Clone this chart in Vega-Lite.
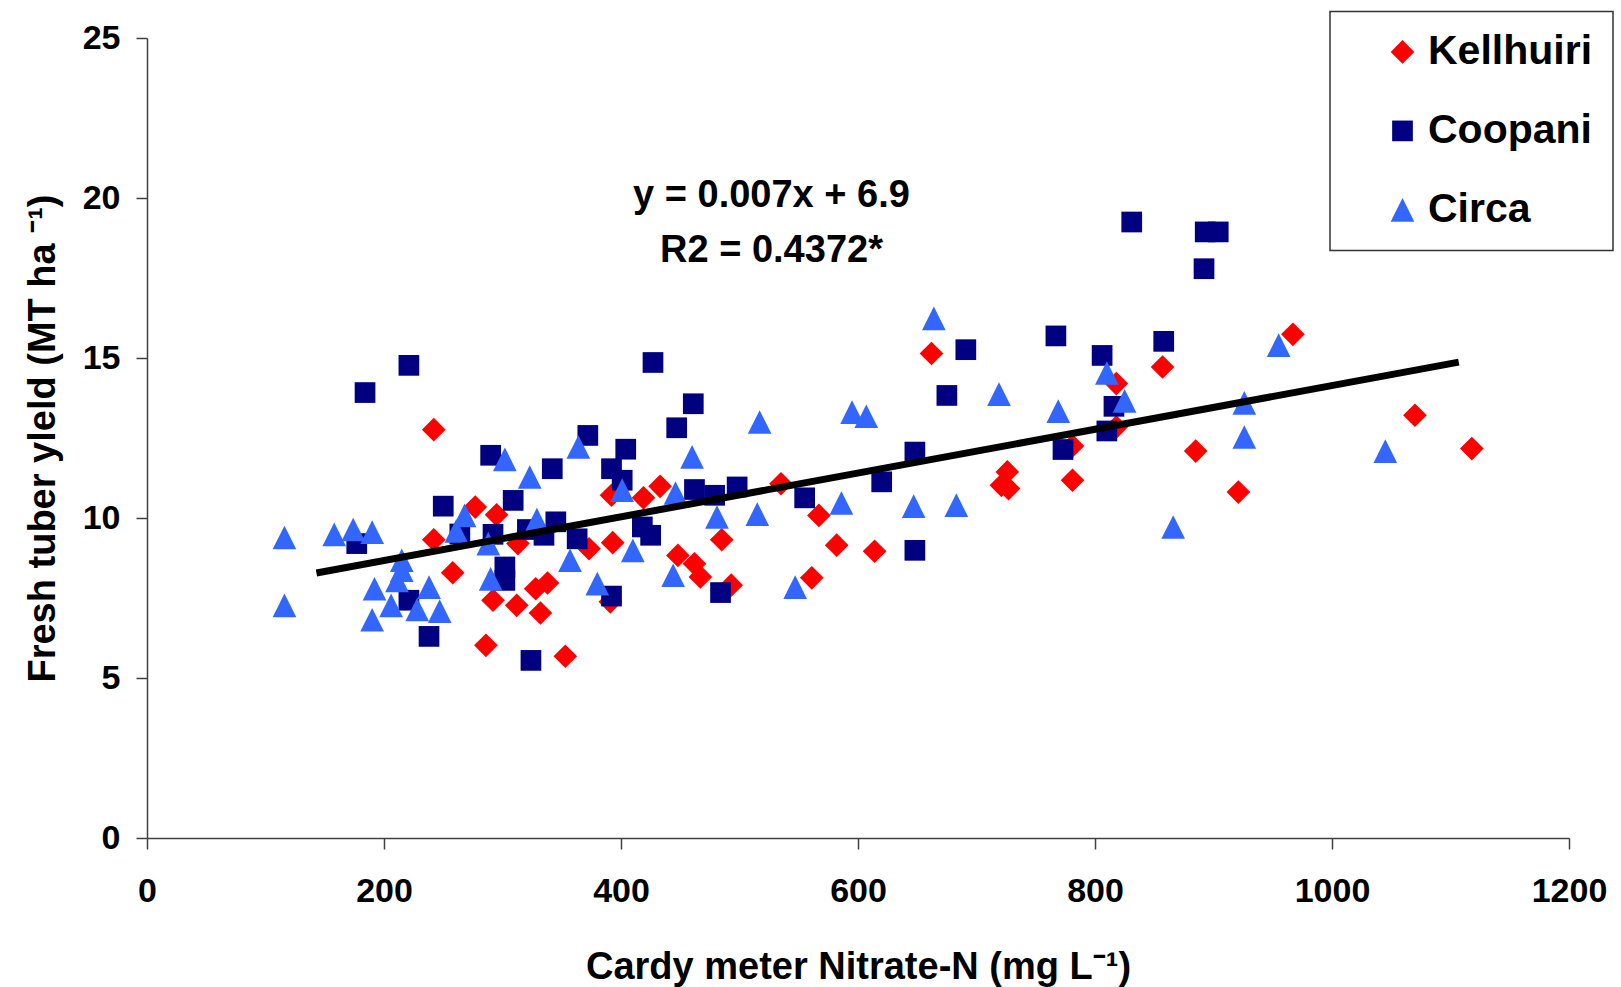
{
  "$schema": "https://vega.github.io/schema/vega-lite/v6.json",
  "width": 1422,
  "height": 800,
  "autosize": {"type": "none"},
  "padding": {"left": 147, "top": 38, "right": 52, "bottom": 149},
  "background": "white",
  "config": {
    "view": {"stroke": null},
    "font": "Liberation Sans",
    "axis": {
      "grid": false,
      "domainColor": "#404040",
      "domainWidth": 1.5,
      "tickColor": "#404040",
      "tickWidth": 1.5,
      "tickSize": 11,
      "labelFont": "Liberation Sans",
      "labelFontWeight": "bold",
      "labelFontSize": 34,
      "labelColor": "black",
      "labelFlush": false,
      "titleFont": "Liberation Sans",
      "titleFontWeight": "bold",
      "titleFontSize": 38,
      "titleColor": "black"
    },
    "legend": {
      "orient": "none",
      "legendX": 1183,
      "legendY": -26.6,
      "padding": 20,
      "strokeColor": "#333333",
      "strokeWidth": 1.5,
      "fillColor": "white",
      "labelFont": "Liberation Sans",
      "labelFontWeight": "bold",
      "labelFontSize": 41,
      "labelColor": "black",
      "labelLimit": 500,
      "symbolSize": 560,
      "symbolStrokeWidth": 0,
      "symbolOpacity": 1,
      "symbolOffset": 32,
      "labelOffset": 5,
      "rowPadding": 37,
      "titlePadding": 0
    }
  },
  "datasets": {
    "points": [
      {"variety": "Kellhuiri", "nitrate": 242, "yield": 12.76},
      {"variety": "Kellhuiri", "nitrate": 277, "yield": 10.34},
      {"variety": "Kellhuiri", "nitrate": 295, "yield": 10.1},
      {"variety": "Kellhuiri", "nitrate": 242, "yield": 9.32},
      {"variety": "Kellhuiri", "nitrate": 258, "yield": 8.29},
      {"variety": "Kellhuiri", "nitrate": 292, "yield": 7.43},
      {"variety": "Kellhuiri", "nitrate": 312, "yield": 7.27},
      {"variety": "Kellhuiri", "nitrate": 286, "yield": 6.02},
      {"variety": "Kellhuiri", "nitrate": 392, "yield": 10.71},
      {"variety": "Kellhuiri", "nitrate": 433, "yield": 10.99},
      {"variety": "Kellhuiri", "nitrate": 419, "yield": 10.63},
      {"variety": "Kellhuiri", "nitrate": 535, "yield": 11.07},
      {"variety": "Kellhuiri", "nitrate": 567, "yield": 10.08},
      {"variety": "Kellhuiri", "nitrate": 313, "yield": 9.2},
      {"variety": "Kellhuiri", "nitrate": 373, "yield": 9.04},
      {"variety": "Kellhuiri", "nitrate": 393, "yield": 9.23},
      {"variety": "Kellhuiri", "nitrate": 485, "yield": 9.32},
      {"variety": "Kellhuiri", "nitrate": 448, "yield": 8.83},
      {"variety": "Kellhuiri", "nitrate": 462, "yield": 8.57},
      {"variety": "Kellhuiri", "nitrate": 467, "yield": 8.16},
      {"variety": "Kellhuiri", "nitrate": 582, "yield": 9.15},
      {"variety": "Kellhuiri", "nitrate": 614, "yield": 8.96},
      {"variety": "Kellhuiri", "nitrate": 561, "yield": 8.13},
      {"variety": "Kellhuiri", "nitrate": 493, "yield": 7.9},
      {"variety": "Kellhuiri", "nitrate": 391, "yield": 7.38},
      {"variety": "Kellhuiri", "nitrate": 328, "yield": 7.79},
      {"variety": "Kellhuiri", "nitrate": 338, "yield": 7.97},
      {"variety": "Kellhuiri", "nitrate": 332, "yield": 7.03},
      {"variety": "Kellhuiri", "nitrate": 353, "yield": 5.68},
      {"variety": "Kellhuiri", "nitrate": 662, "yield": 15.14},
      {"variety": "Kellhuiri", "nitrate": 857, "yield": 14.72},
      {"variety": "Kellhuiri", "nitrate": 967, "yield": 15.74},
      {"variety": "Kellhuiri", "nitrate": 818, "yield": 14.2},
      {"variety": "Kellhuiri", "nitrate": 1070, "yield": 13.21},
      {"variety": "Kellhuiri", "nitrate": 781, "yield": 12.25},
      {"variety": "Kellhuiri", "nitrate": 818, "yield": 12.84},
      {"variety": "Kellhuiri", "nitrate": 885, "yield": 12.09},
      {"variety": "Kellhuiri", "nitrate": 726, "yield": 11.44},
      {"variety": "Kellhuiri", "nitrate": 721, "yield": 11.02},
      {"variety": "Kellhuiri", "nitrate": 727, "yield": 10.92},
      {"variety": "Kellhuiri", "nitrate": 781, "yield": 11.18},
      {"variety": "Kellhuiri", "nitrate": 921, "yield": 10.81},
      {"variety": "Kellhuiri", "nitrate": 1118, "yield": 12.17},
      {"variety": "Coopani", "nitrate": 221, "yield": 14.77},
      {"variety": "Coopani", "nitrate": 184, "yield": 13.92},
      {"variety": "Coopani", "nitrate": 290, "yield": 11.96},
      {"variety": "Coopani", "nitrate": 250, "yield": 10.37},
      {"variety": "Coopani", "nitrate": 309, "yield": 10.55},
      {"variety": "Coopani", "nitrate": 264, "yield": 9.5},
      {"variety": "Coopani", "nitrate": 177, "yield": 9.2},
      {"variety": "Coopani", "nitrate": 292, "yield": 9.49},
      {"variety": "Coopani", "nitrate": 302, "yield": 8.47},
      {"variety": "Coopani", "nitrate": 302, "yield": 8.05},
      {"variety": "Coopani", "nitrate": 221, "yield": 7.43},
      {"variety": "Coopani", "nitrate": 238, "yield": 6.3},
      {"variety": "Coopani", "nitrate": 427, "yield": 14.86},
      {"variety": "Coopani", "nitrate": 461, "yield": 13.57},
      {"variety": "Coopani", "nitrate": 447, "yield": 12.82},
      {"variety": "Coopani", "nitrate": 372, "yield": 12.58},
      {"variety": "Coopani", "nitrate": 404, "yield": 12.15},
      {"variety": "Coopani", "nitrate": 392, "yield": 11.54},
      {"variety": "Coopani", "nitrate": 342, "yield": 11.54},
      {"variety": "Coopani", "nitrate": 401, "yield": 11.18},
      {"variety": "Coopani", "nitrate": 462, "yield": 10.89},
      {"variety": "Coopani", "nitrate": 479, "yield": 10.71},
      {"variety": "Coopani", "nitrate": 498, "yield": 10.97},
      {"variety": "Coopani", "nitrate": 555, "yield": 10.63},
      {"variety": "Coopani", "nitrate": 620, "yield": 11.13},
      {"variety": "Coopani", "nitrate": 648, "yield": 12.06},
      {"variety": "Coopani", "nitrate": 345, "yield": 9.88},
      {"variety": "Coopani", "nitrate": 321, "yield": 9.64},
      {"variety": "Coopani", "nitrate": 335, "yield": 9.46},
      {"variety": "Coopani", "nitrate": 363, "yield": 9.35},
      {"variety": "Coopani", "nitrate": 418, "yield": 9.72},
      {"variety": "Coopani", "nitrate": 425, "yield": 9.46},
      {"variety": "Coopani", "nitrate": 648, "yield": 8.99},
      {"variety": "Coopani", "nitrate": 484, "yield": 7.67},
      {"variety": "Coopani", "nitrate": 392, "yield": 7.56},
      {"variety": "Coopani", "nitrate": 324, "yield": 5.55},
      {"variety": "Coopani", "nitrate": 831, "yield": 19.25},
      {"variety": "Coopani", "nitrate": 893, "yield": 18.94},
      {"variety": "Coopani", "nitrate": 904, "yield": 18.94},
      {"variety": "Coopani", "nitrate": 892, "yield": 17.79},
      {"variety": "Coopani", "nitrate": 691, "yield": 15.26},
      {"variety": "Coopani", "nitrate": 767, "yield": 15.69},
      {"variety": "Coopani", "nitrate": 806, "yield": 15.08},
      {"variety": "Coopani", "nitrate": 858, "yield": 15.52},
      {"variety": "Coopani", "nitrate": 675, "yield": 13.83},
      {"variety": "Coopani", "nitrate": 816, "yield": 13.49},
      {"variety": "Coopani", "nitrate": 773, "yield": 12.14},
      {"variety": "Coopani", "nitrate": 810, "yield": 12.72},
      {"variety": "Circa", "nitrate": 302, "yield": 11.83},
      {"variety": "Circa", "nitrate": 268, "yield": 10.08},
      {"variety": "Circa", "nitrate": 261, "yield": 9.6},
      {"variety": "Circa", "nitrate": 116, "yield": 9.39},
      {"variety": "Circa", "nitrate": 116, "yield": 7.27},
      {"variety": "Circa", "nitrate": 158, "yield": 9.49},
      {"variety": "Circa", "nitrate": 174, "yield": 9.64},
      {"variety": "Circa", "nitrate": 190, "yield": 9.56},
      {"variety": "Circa", "nitrate": 215, "yield": 8.68},
      {"variety": "Circa", "nitrate": 215, "yield": 8.37},
      {"variety": "Circa", "nitrate": 211, "yield": 8.05},
      {"variety": "Circa", "nitrate": 288, "yield": 9.2},
      {"variety": "Circa", "nitrate": 290, "yield": 8.1},
      {"variety": "Circa", "nitrate": 192, "yield": 7.79},
      {"variety": "Circa", "nitrate": 206, "yield": 7.27},
      {"variety": "Circa", "nitrate": 238, "yield": 7.84},
      {"variety": "Circa", "nitrate": 228, "yield": 7.14},
      {"variety": "Circa", "nitrate": 247, "yield": 7.09},
      {"variety": "Circa", "nitrate": 190, "yield": 6.82},
      {"variety": "Circa", "nitrate": 517, "yield": 13.0},
      {"variety": "Circa", "nitrate": 595, "yield": 13.31},
      {"variety": "Circa", "nitrate": 607, "yield": 13.18},
      {"variety": "Circa", "nitrate": 364, "yield": 12.22},
      {"variety": "Circa", "nitrate": 323, "yield": 11.28},
      {"variety": "Circa", "nitrate": 460, "yield": 11.91},
      {"variety": "Circa", "nitrate": 401, "yield": 10.87},
      {"variety": "Circa", "nitrate": 446, "yield": 10.78},
      {"variety": "Circa", "nitrate": 586, "yield": 10.47},
      {"variety": "Circa", "nitrate": 647, "yield": 10.37},
      {"variety": "Circa", "nitrate": 481, "yield": 10.03},
      {"variety": "Circa", "nitrate": 515, "yield": 10.12},
      {"variety": "Circa", "nitrate": 329, "yield": 9.95},
      {"variety": "Circa", "nitrate": 410, "yield": 8.99},
      {"variety": "Circa", "nitrate": 357, "yield": 8.68},
      {"variety": "Circa", "nitrate": 444, "yield": 8.21},
      {"variety": "Circa", "nitrate": 547, "yield": 7.84},
      {"variety": "Circa", "nitrate": 380, "yield": 7.95},
      {"variety": "Circa", "nitrate": 664, "yield": 16.24},
      {"variety": "Circa", "nitrate": 955, "yield": 15.4},
      {"variety": "Circa", "nitrate": 810, "yield": 14.53},
      {"variety": "Circa", "nitrate": 719, "yield": 13.87},
      {"variety": "Circa", "nitrate": 769, "yield": 13.34},
      {"variety": "Circa", "nitrate": 825, "yield": 13.66},
      {"variety": "Circa", "nitrate": 926, "yield": 13.6},
      {"variety": "Circa", "nitrate": 926, "yield": 12.53},
      {"variety": "Circa", "nitrate": 1045, "yield": 12.09},
      {"variety": "Circa", "nitrate": 683, "yield": 10.4},
      {"variety": "Circa", "nitrate": 866, "yield": 9.72}
    ],
    "trend": [
      {"nitrate": 143, "yield": 8.28},
      {"nitrate": 1107, "yield": 14.87}
    ],
    "notes": [
      {"label": "y = 0.007x + 6.9", "nitrate": 527, "yield": 19.71},
      {"label": "R2 = 0.4372*", "nitrate": 527, "yield": 17.99}
    ]
  },
  "layer": [
    {
      "data": {"name": "points"},
      "mark": {"type": "point", "filled": true, "opacity": 1, "size": 560, "strokeWidth": 0},
      "encoding": {
        "x": {
          "field": "nitrate", "type": "quantitative",
          "scale": {"domain": [0, 1200], "nice": false, "zero": true},
          "axis": {
            "title": "Cardy meter Nitrate-N (mg L⁻¹)",
            "values": [0, 200, 400, 600, 800, 1000, 1200],
            "format": "d",
            "labelPadding": 25,
            "titlePadding": 40
          }
        },
        "y": {
          "field": "yield", "type": "quantitative",
          "scale": {"domain": [0, 25], "nice": false},
          "axis": {
            "title": "Fresh tuber yleld (MT ha ⁻¹)",
            "values": [0, 5, 10, 15, 20, 25],
            "labelPadding": 16,
            "titlePadding": 20
          }
        },
        "color": {
          "field": "variety", "type": "nominal",
          "scale": {"domain": ["Kellhuiri", "Coopani", "Circa"], "range": ["#FF0000", "#000080", "#3366FF"]},
          "legend": {"title": null}
        },
        "shape": {
          "field": "variety", "type": "nominal",
          "scale": {"domain": ["Kellhuiri", "Coopani", "Circa"], "range": ["M-1,0L0,-1L1,0L0,1Z", "M-0.875,-0.875H0.875V0.875H-0.875Z", "M0,-1L-1,1L1,1Z"]},
          "legend": {"title": null}
        }
      }
    },
    {
      "data": {"name": "trend"},
      "mark": {"type": "line", "color": "black", "strokeWidth": 7, "strokeCap": "butt"},
      "encoding": {
        "x": {"field": "nitrate", "type": "quantitative"},
        "y": {"field": "yield", "type": "quantitative"}
      }
    },
    {
      "data": {"name": "notes"},
      "mark": {"type": "text", "align": "center", "baseline": "alphabetic", "fontSize": 38, "fontWeight": "bold", "font": "Liberation Sans", "color": "black"},
      "encoding": {
        "x": {"field": "nitrate", "type": "quantitative"},
        "y": {"field": "yield", "type": "quantitative"},
        "text": {"field": "label", "type": "nominal"}
      }
    }
  ]
}
